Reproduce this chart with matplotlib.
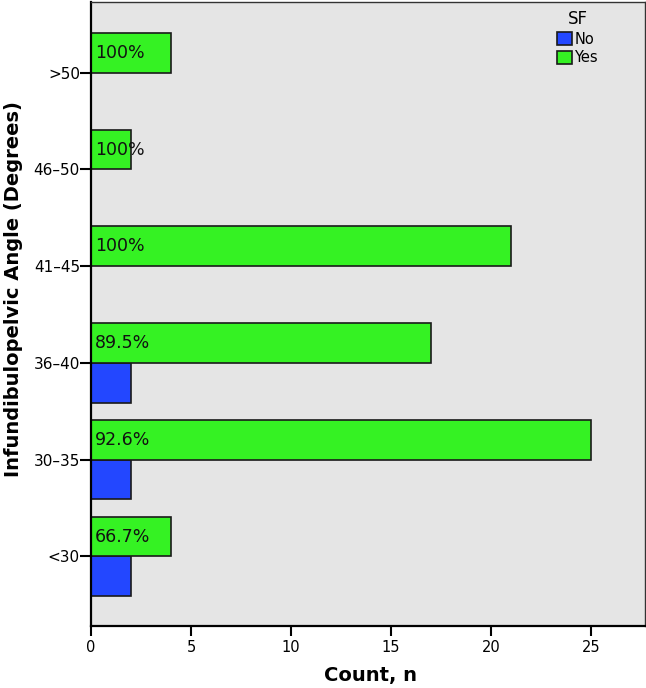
import matplotlib.pyplot as plt
import numpy as np

# angle groups, bottom to top
categories = ["<30", "30–35", "36–40", "41–45", "46–50", ">50"]
no_counts = [2, 2, 2, 0, 0, 0]
yes_counts = [4, 25, 17, 21, 2, 4]
yes_pct = ["66.7%", "92.6%", "89.5%", "100%", "100%", "100%"]

fig = plt.figure(figsize=(6.46, 6.88), dpi=100)
ax = fig.add_axes([91 / 646, 62 / 688, 554 / 646, 624 / 688])
ax.set_facecolor("#e5e5e5")

y = np.arange(len(categories))
h = 0.41

# skip empty "No" bars so no stray edge lines are drawn
ny = [yi for yi, v in zip(y, no_counts) if v > 0]
nv = [v for v in no_counts if v > 0]
ax.barh(np.array(ny) - h / 2, nv, height=h, color="#2347ff",
        edgecolor="#1a1a1a", linewidth=1.2, label="No")
ax.barh(y + h / 2, yes_counts, height=h, color="#35f223",
        edgecolor="#1a1a1a", linewidth=1.2, label="Yes")

for yi, txt in zip(y, yes_pct):
    ax.text(0.2, yi + h / 2, txt, ha="left", va="center", fontsize=12.5,
            color="#111111")

ax.set_xlim(0, 27.7)
ax.set_ylim(-0.72, 5.73)
ax.set_yticks(y)
ax.set_yticklabels(categories, fontsize=11)
ax.set_xticks([0, 5, 10, 15, 20, 25])
ax.tick_params(axis="y", length=8, width=1.5, pad=0)
ax.tick_params(axis="x", length=7, width=1.5, pad=3, labelsize=10.5)

for side in ["left", "bottom"]:
    ax.spines[side].set_linewidth(1.6)
    ax.spines[side].set_color("black")
for side in ["top", "right"]:
    ax.spines[side].set_linewidth(1.0)
    ax.spines[side].set_color("#333333")

ax.set_xlabel("Count, n", fontsize=14, fontweight="bold")
ax.set_ylabel("Infundibulopelvic Angle (Degrees)", fontsize=14,
              fontweight="bold")
ax.xaxis.set_label_coords((371 - 91) / 554, (626 - 666) / 624)
ax.yaxis.set_label_coords((23 - 91) / 554, (626 - 289) / 624)

handles, labels = ax.get_legend_handles_labels()
leg = ax.legend(handles, labels, title="SF", frameon=False, fontsize=10.5,
                title_fontsize=12, loc="upper left",
                bbox_to_anchor=((557 - 91) / 554, 1 - 8 / 624),
                borderpad=0, borderaxespad=0, handlelength=1.0,
                handleheight=0.95, handletextpad=0.2, labelspacing=0.25)

plt.savefig("out.png", dpi=100)
